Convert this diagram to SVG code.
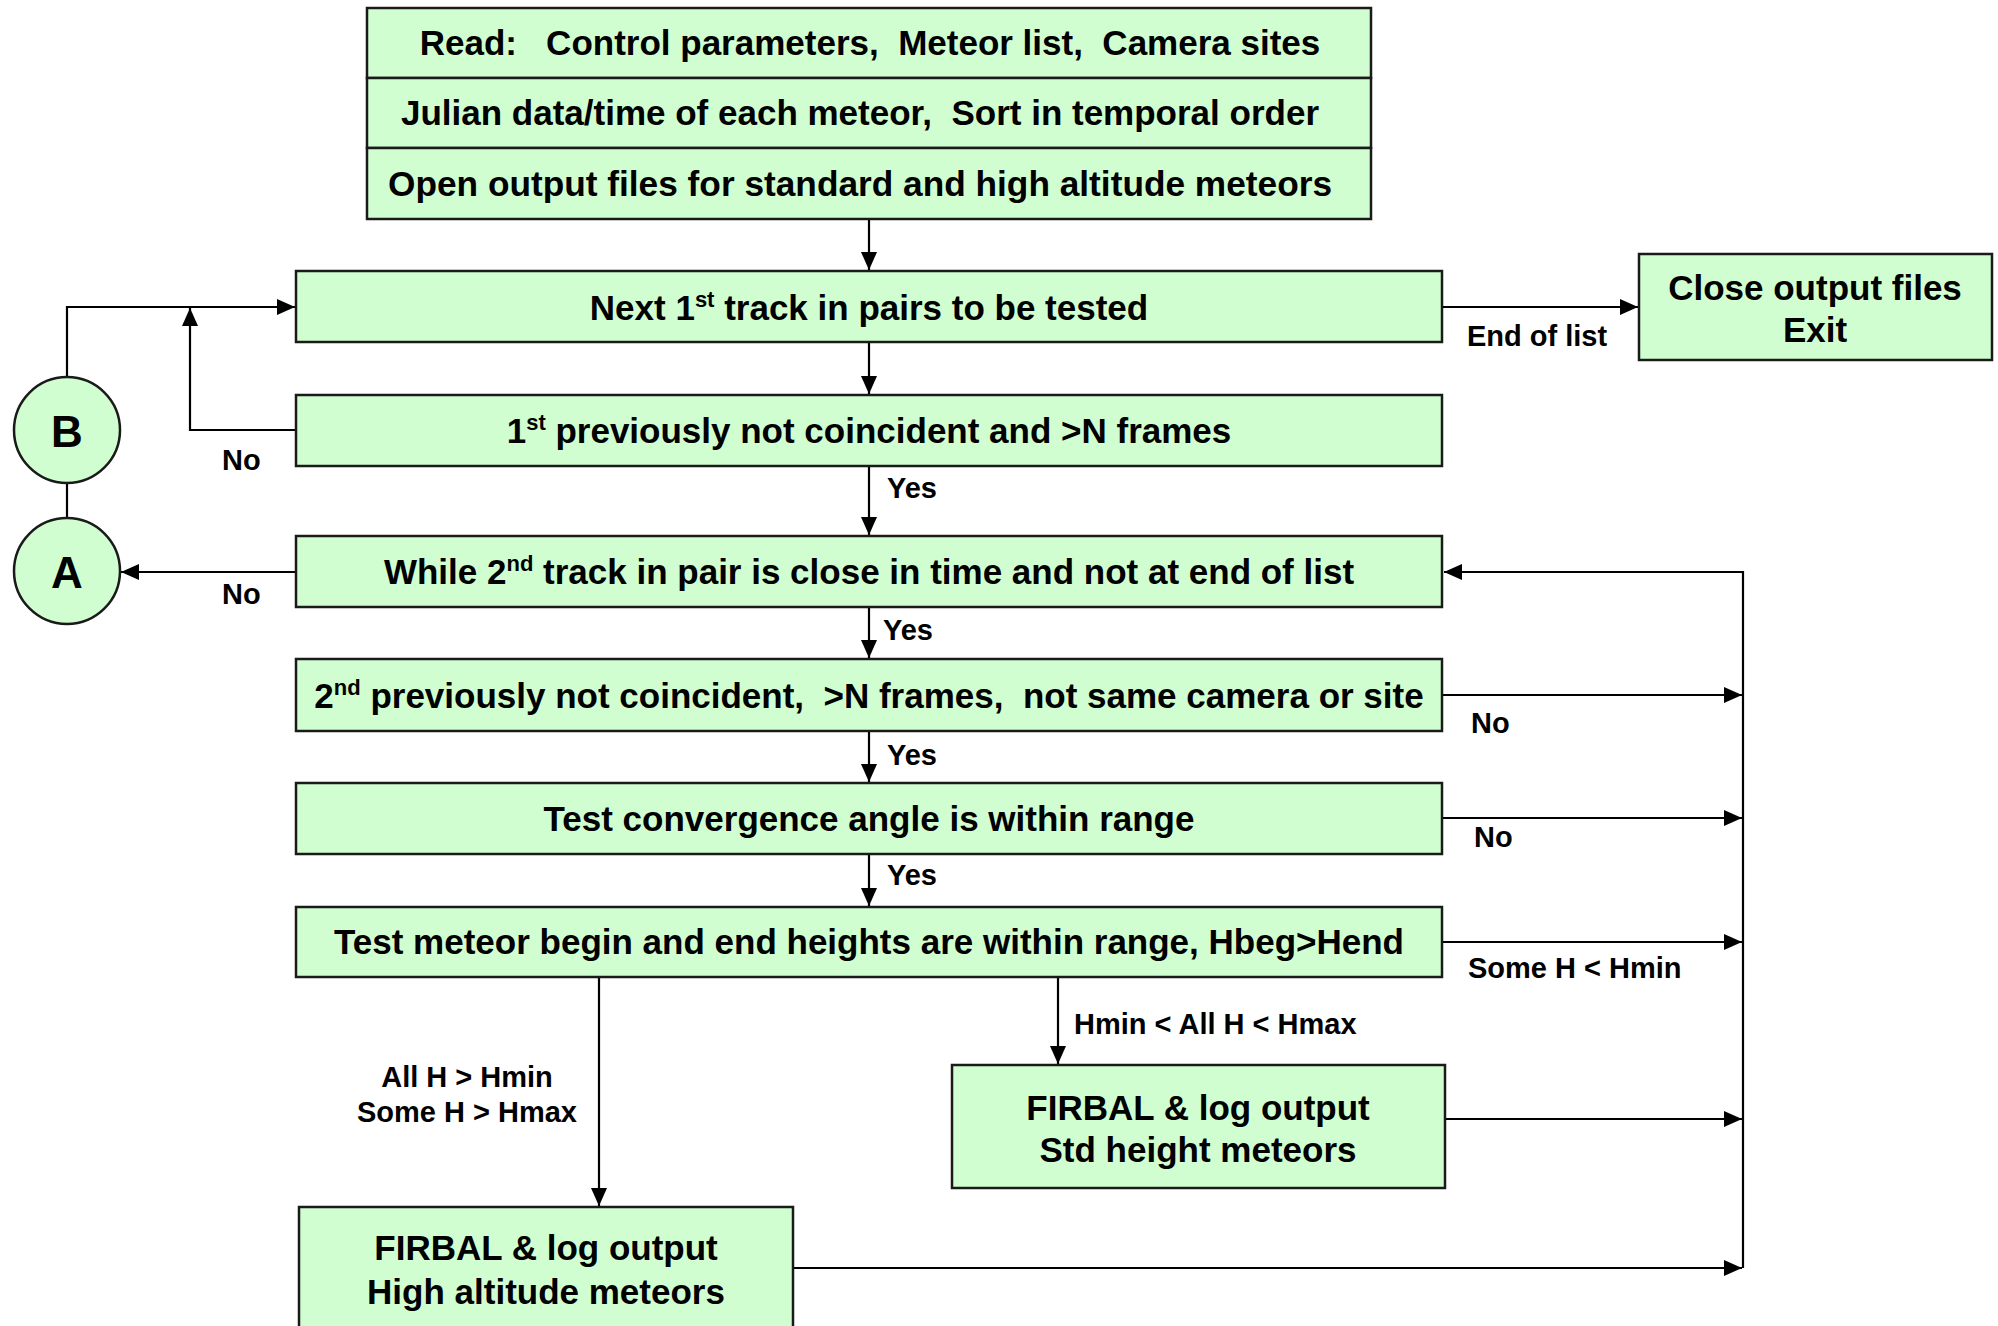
<svg xmlns="http://www.w3.org/2000/svg" width="1998" height="1326" viewBox="0 0 1998 1326">
<style>
.box{fill:#d0fed0;stroke:#1a1a1a;stroke-width:2.5}
.t{font-family:"Liberation Sans",Arial,sans-serif;font-weight:bold;font-size:35px;fill:#000;text-anchor:middle;white-space:pre}
.lbl{font-family:"Liberation Sans",Arial,sans-serif;font-weight:bold;font-size:29px;fill:#000;white-space:pre}
.big{font-family:"Liberation Sans",Arial,sans-serif;font-weight:bold;font-size:44px;fill:#000;text-anchor:middle}
.c{fill:none;stroke:#000;stroke-width:2.2}
.sup{font-size:22px}
</style>
<defs>
<marker id="ah" markerUnits="userSpaceOnUse" markerWidth="19" markerHeight="17" refX="18" refY="8" orient="auto">
<path d="M0,0 L18,8 L0,16 z" fill="#000"/>
</marker>
</defs>

<g id="connectors">
<path class="c" d="M869,219 V270" marker-end="url(#ah)"/>
<path class="c" d="M869,343 V394" marker-end="url(#ah)"/>
<path class="c" d="M869,467 V535" marker-end="url(#ah)"/>
<path class="c" d="M869,608 V658" marker-end="url(#ah)"/>
<path class="c" d="M869,732 V782" marker-end="url(#ah)"/>
<path class="c" d="M869,855 V906" marker-end="url(#ah)"/>
<path class="c" d="M1443,307 H1638" marker-end="url(#ah)"/>
<path class="c" d="M295,430 H190 V308" marker-end="url(#ah)"/>
<path class="c" d="M67,377 V307 H295" marker-end="url(#ah)"/>
<path class="c" d="M67,483 V519"/>
<path class="c" d="M295,572 H121" marker-end="url(#ah)"/>
<path class="c" d="M1743,1268 V572 H1444" marker-end="url(#ah)"/>
<path class="c" d="M1443,695 H1742" marker-end="url(#ah)"/>
<path class="c" d="M1443,818 H1742" marker-end="url(#ah)"/>
<path class="c" d="M1443,942 H1742" marker-end="url(#ah)"/>
<path class="c" d="M599,978 V1206" marker-end="url(#ah)"/>
<path class="c" d="M1058,978 V1064" marker-end="url(#ah)"/>
<path class="c" d="M1446,1119 H1742" marker-end="url(#ah)"/>
<path class="c" d="M794,1268 H1742" marker-end="url(#ah)"/>
</g>

<g id="edge-labels">
<text class="lbl" x="1467" y="346">End of list</text>
<text class="lbl" x="222" y="470">No</text>
<text class="lbl" x="222" y="604">No</text>
<text class="lbl" x="887" y="498">Yes</text>
<text class="lbl" x="883" y="640">Yes</text>
<text class="lbl" x="887" y="765">Yes</text>
<text class="lbl" x="887" y="885">Yes</text>
<text class="lbl" x="1471" y="733">No</text>
<text class="lbl" x="1474" y="847">No</text>
<text class="lbl" x="1468" y="978">Some H &lt; Hmin</text>
<text class="lbl" x="1074" y="1034">Hmin &lt; All H &lt; Hmax</text>
<text class="lbl" x="467" y="1087" text-anchor="middle">All H &gt; Hmin</text>
<text class="lbl" x="467" y="1122" text-anchor="middle">Some H &gt; Hmax</text>
</g>

<g id="read">
<rect class="box" x="367" y="8" width="1004" height="70"/>
<text class="t" x="870" y="55">Read:   Control parameters,  Meteor list,  Camera sites</text>
</g>
<g id="julian">
<rect class="box" x="367" y="78" width="1004" height="70"/>
<text class="t" x="860" y="125">Julian data/time of each meteor,  Sort in temporal order</text>
</g>
<g id="open">
<rect class="box" x="367" y="148" width="1004" height="71"/>
<text class="t" x="860" y="196" textLength="944" lengthAdjust="spacingAndGlyphs">Open output files for standard and high altitude meteors</text>
</g>

<g id="next1">
<rect class="box" x="296" y="271" width="1146" height="71"/>
<text class="t" x="869" y="320">Next 1<tspan class="sup" dy="-13">st</tspan><tspan dy="13"> track in pairs to be tested</tspan></text>
</g>
<g id="prev1">
<rect class="box" x="296" y="395" width="1146" height="71"/>
<text class="t" x="869" y="443">1<tspan class="sup" dy="-13">st</tspan><tspan dy="13"> previously not coincident and &gt;N frames</tspan></text>
</g>
<g id="while2">
<rect class="box" x="296" y="536" width="1146" height="71"/>
<text class="t" x="869" y="584">While 2<tspan class="sup" dy="-13">nd</tspan><tspan dy="13"> track in pair is close in time and not at end of list</tspan></text>
</g>
<g id="prev2">
<rect class="box" x="296" y="659" width="1146" height="72"/>
<text class="t" x="869" y="708">2<tspan class="sup" dy="-13">nd</tspan><tspan dy="13"> previously not coincident,  &gt;N frames,  not same camera or site</tspan></text>
</g>
<g id="converge">
<rect class="box" x="296" y="783" width="1146" height="71"/>
<text class="t" x="869" y="831">Test convergence angle is within range</text>
</g>
<g id="heights">
<rect class="box" x="296" y="907" width="1146" height="70"/>
<text class="t" x="869" y="954">Test meteor begin and end heights are within range, Hbeg&gt;Hend</text>
</g>

<g id="exit">
<rect class="box" x="1639" y="254" width="353" height="106"/>
<text class="t" x="1815" y="300">Close output files</text>
<text class="t" x="1815" y="342">Exit</text>
</g>

<g id="std">
<rect class="box" x="952" y="1065" width="493" height="123"/>
<text class="t" x="1198" y="1120">FIRBAL &amp; log output</text>
<text class="t" x="1198" y="1162">Std height meteors</text>
</g>

<g id="high">
<rect class="box" x="299" y="1207" width="494" height="140"/>
<text class="t" x="546" y="1260">FIRBAL &amp; log output</text>
<text class="t" x="546" y="1304">High altitude meteors</text>
</g>

<g id="B">
<circle class="box" cx="67" cy="430" r="53"/>
<text class="big" x="67" y="447">B</text>
</g>
<g id="A">
<circle class="box" cx="67" cy="571" r="53"/>
<text class="big" x="67" y="588">A</text>
</g>
</svg>
